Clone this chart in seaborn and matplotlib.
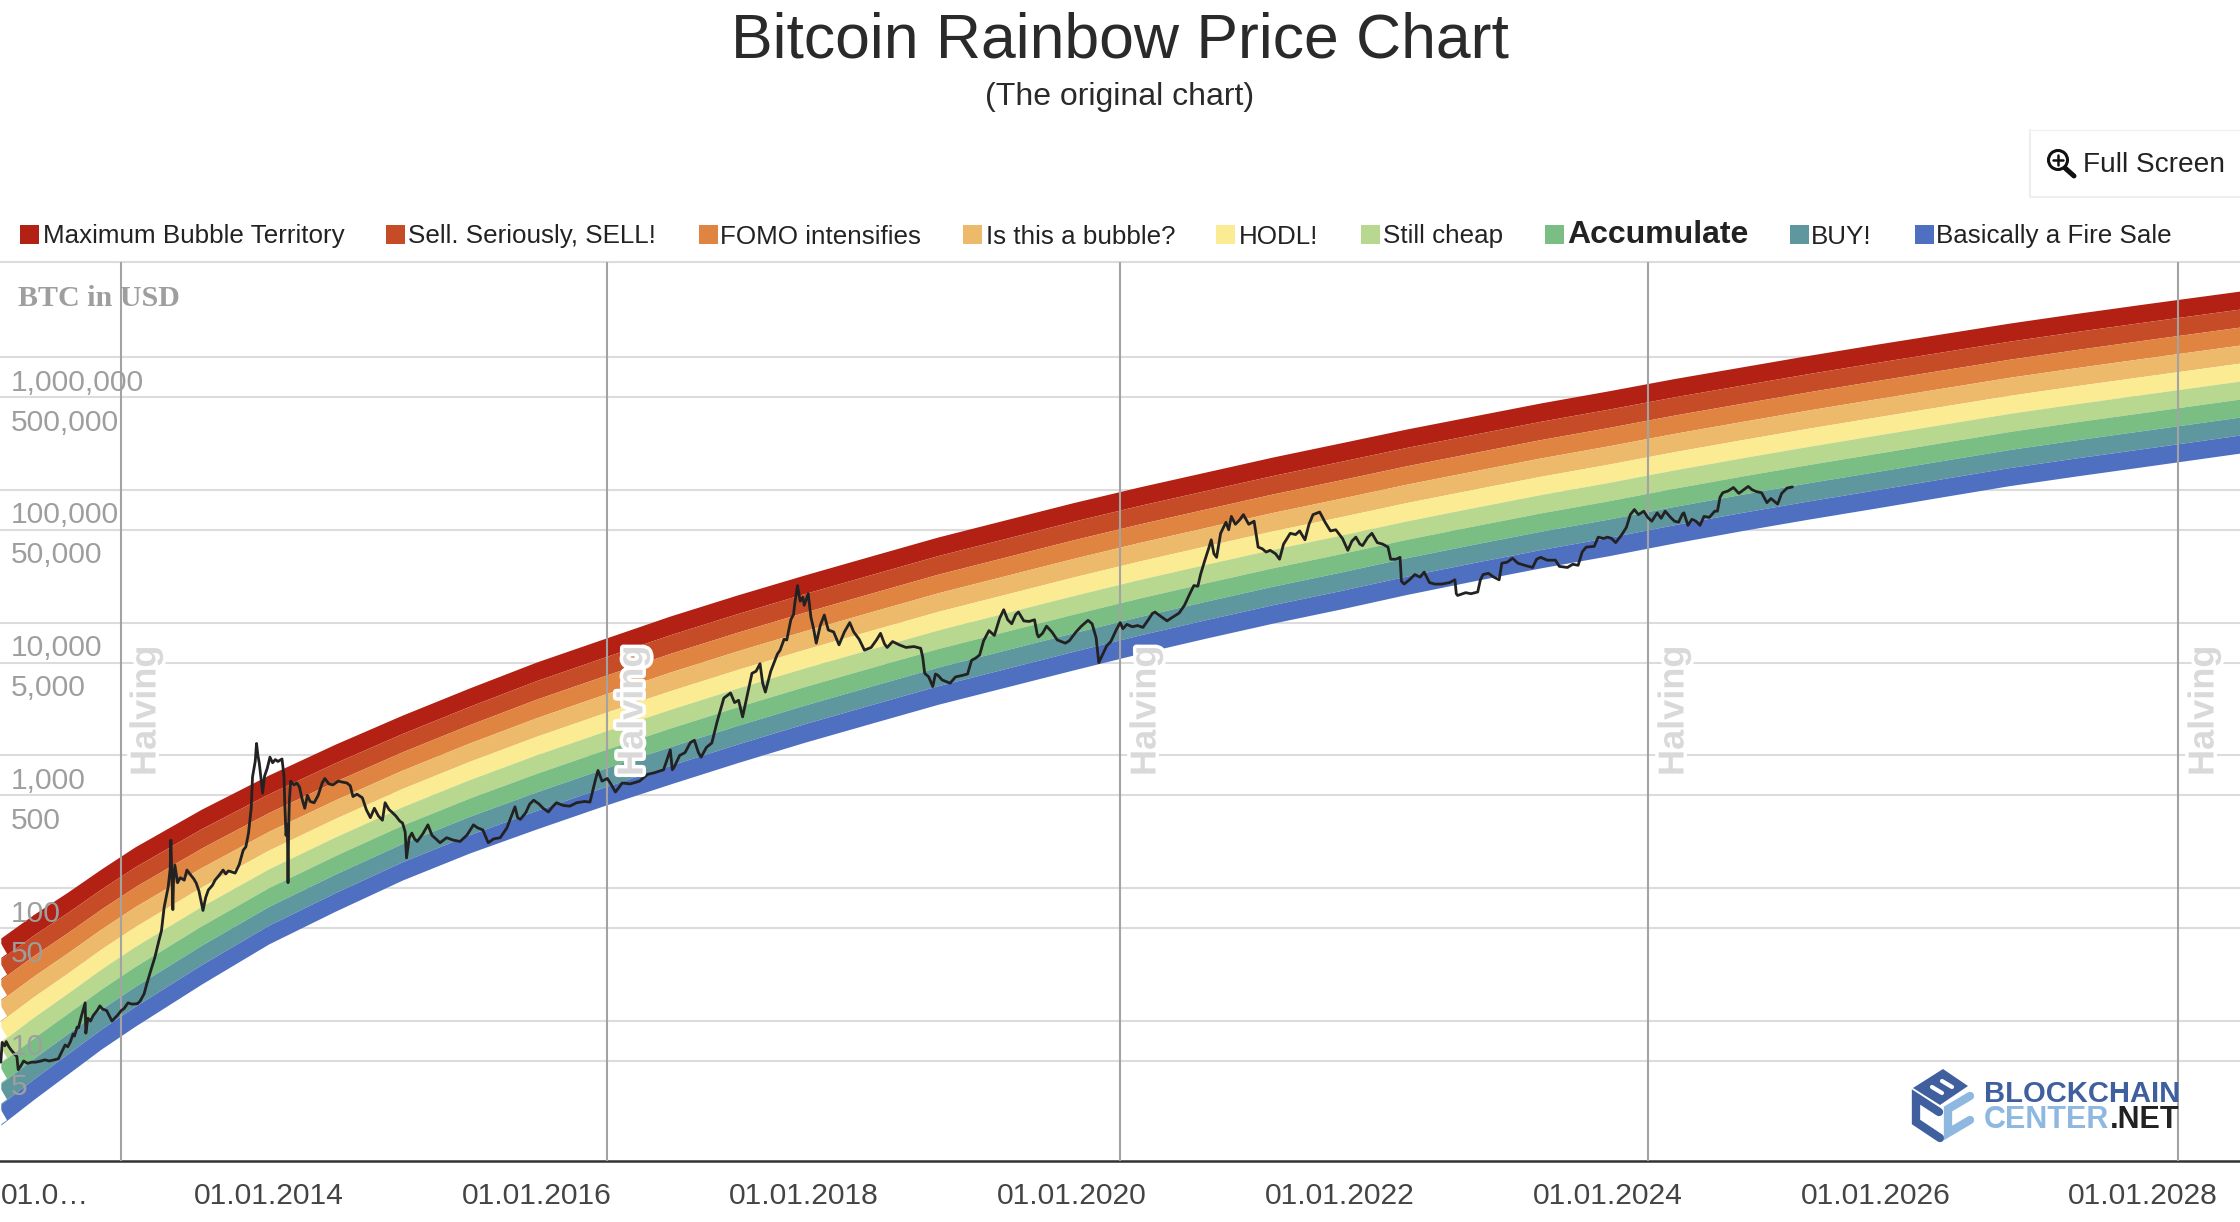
import numpy as np
import pandas as pd
import seaborn as sns
import matplotlib.pyplot as plt
from matplotlib.patches import Rectangle, Circle, Polygon
import matplotlib.patheffects as pe

# rainbow outer edges, log10(USD), read at these dates
edge_years = [2012.0, 2012.25, 2012.5, 2012.75, 2013.0, 2013.5, 2014.0, 2014.5, 2015.0, 2015.5, 2016.0, 2016.5,
              2017.0, 2017.5, 2018.0, 2018.5, 2019.0, 2019.5, 2020.0, 2020.5, 2021.0, 2021.5, 2022.0, 2022.5,
              2023.0, 2023.5, 2024.0, 2024.5, 2025.0, 2025.5, 2026.0, 2026.5, 2027.0, 2027.5, 2028.0, 2028.72]
top_edge = [1.625, 1.806, 1.971, 2.145, 2.310, 2.596, 2.852, 3.086, 3.304, 3.508, 3.703, 3.877,
            4.050, 4.208, 4.358, 4.502, 4.645, 4.773, 4.901, 5.021, 5.134, 5.247, 5.352, 5.458,
            5.556, 5.654, 5.744, 5.838, 5.925, 6.012, 6.095, 6.175, 6.255, 6.328, 6.398, 6.496]
bottom_edge = [0.217, 0.413, 0.601, 0.789, 0.959, 1.279, 1.580, 1.828, 2.062, 2.265, 2.446, 2.620,
               2.785, 2.945, 3.098, 3.242, 3.385, 3.513, 3.641, 3.766, 3.883, 3.996, 4.101, 4.212,
               4.314, 4.412, 4.502, 4.600, 4.692, 4.779, 4.862, 4.947, 5.031, 5.104, 5.174, 5.276]

band_names = ['Maximum Bubble Territory', 'Sell. Seriously, SELL!', 'FOMO intensifies', 'Is this a bubble?',
              'HODL!', 'Still cheap', 'Accumulate', 'BUY!', 'Basically a Fire Sale']
band_colors = ['#B22113', '#C64C27', '#E08441', '#EDB96B', '#FBEB93', '#B8D78F', '#7BBE84', '#5F979F', '#4F70C0']

# btc price, one pair of lists per calendar year (fraction of year, usd)
t2012 = [.00, .01, .03, .04, .06, .08, .10, .12, .13, .15, .17, .20, .23, .26, .30, .33, .36, .40, .43, .46, .48, .50,
         .52, .54, .55, .57, .58, .60, .63, .635, .65, .67, .69, .72, .74, .76, .79, .83, .87, .90, .92, .95, .98]
p2012 = [4.9, 6.9, 6.5, 7.0, 6.4, 6.0, 5.7, 5.4, 4.3, 4.6, 5.0, 4.8, 4.9, 4.9, 5.0, 5.1, 5.0, 5.1, 5.2, 6.0, 6.6, 6.4,
         7.0, 8.0, 7.7, 9.0, 8.9, 10.7, 13.7, 8.1, 10.5, 10.0, 11.0, 12.0, 13.0, 12.3, 12.0, 10.0, 11.0, 12.0, 12.4, 13.7, 13.4]
t2013 = [.02, .04, .07, .09, .12, .15, .18, .20, .22, .25, .265, .27, .285, .29, .30, .32, .34, .37, .39, .42, .44, .46, .48, .51,
         .53, .55, .58, .60, .63, .66, .68, .70, .73, .75, .78, .81, .83, .85, .87, .88, .90, .91, .92, .93, .945, .955, .97, .99]
p2013 = [13.5, 14.1, 16, 19, 24, 30, 40, 48, 72, 102, 140, 230, 69, 115, 149, 110, 120, 115, 137, 125, 118, 109, 95, 68,
         85, 97, 105, 115, 125, 137, 128, 135, 132, 130, 150, 193, 205, 260, 400, 690, 900, 1230, 1000, 880, 650, 520, 700, 800]
t2014 = [.01, .03, .05, .07, .10, .115, .12, .13, .14, .145, .15, .155, .165, .17, .19, .21, .23, .25, .27, .29, .31, .34,
         .37, .40, .42, .45, .48, .52, .55, .585, .61, .63, .66, .70, .73, .76, .79, .82, .85, .87, .90, .92, .95, .98]
p2014 = [970, 880, 930, 900, 940, 700, 460, 250, 300, 110, 300, 460, 640, 630, 600, 620, 580, 470, 400, 500, 450, 440,
         500, 620, 670, 610, 600, 640, 630, 620, 590, 490, 510, 480, 390, 340, 400, 350, 325, 440, 390, 375, 350, 320]
t2015 = [.00, .02, .03, .05, .07, .09, .11, .15, .19, .22, .25, .28, .33, .38, .43, .48, .53, .56, .60, .64, .68, .73, .78, .84, .86, .88, .92, .95, .98]
p2015 = [310, 265, 169, 240, 260, 235, 225, 255, 300, 250, 235, 220, 240, 230, 225, 250, 300, 285, 275, 220, 235, 240, 285, 410, 340, 330, 370, 430, 460]
t2016 = [.02, .05, .09, .12, .15, .20, .25, .30, .36, .40, .44, .46, .49, .53, .56, .59, .62, .64, .70, .77, .83, .88, .95, .98]
p2016 = [430, 400, 375, 410, 440, 420, 415, 440, 450, 445, 650, 770, 640, 670, 600, 530, 580, 620, 610, 640, 720, 740, 780, 960]
t2017 = [.00, .015, .03, .07, .11, .15, .18, .21, .23, .27, .31, .35, .38, .40, .45, .48, .51, .54, .57, .61, .64, .67, .69, .71, .75, .80, .82, .85, .87, .90, .92, .93, .95, .97, .99]
p2017 = [1100, 780, 820, 1000, 1050, 1250, 1300, 1050, 970, 1150, 1240, 1800, 2300, 2700, 2950, 2500, 2600, 1950, 2700, 4150, 4300, 4900, 3500, 3000, 4300, 5800, 6200, 7500, 7400, 10500, 11500, 14000, 19000, 14500, 15500]
t2018 = [.00, .03, .05, .07, .09, .12, .15, .18, .22, .26, .30, .34, .37, .41, .45, .50, .54, .57, .60, .62, .66, .71, .76, .82, .87, .885, .90, .93, .96, .98]
p2018 = [13500, 16500, 11000, 9000, 7000, 9500, 11400, 8800, 8500, 6800, 8500, 10000, 8500, 7500, 6200, 6500, 7400, 8300, 6900, 6500, 7200, 6800, 6500, 6600, 6400, 5500, 4150, 3900, 3300, 4100]
t2019 = [.00, .03, .06, .09, .13, .18, .22, .25, .28, .31, .34, .38, .42, .46, .49, .52, .55, .58, .60, .64, .68, .72, .74, .75, .78, .81, .85, .89, .95, .98]
p2019 = [4000, 3700, 3600, 3500, 3900, 4000, 4100, 5200, 5400, 5700, 7300, 8700, 8000, 10800, 12500, 10500, 9800, 11500, 12000, 10300, 10200, 10500, 8200, 7800, 8300, 9400, 8500, 7400, 7000, 7300]
t2020 = [.03, .07, .12, .15, .18, .20, .23, .26, .29, .33, .36, .38, .41, .45, .49, .53, .57, .60, .62, .66, .71, .74, .80, .84, .88, .91, .94, .96, .99]
p2020 = [8500, 9400, 10400, 9800, 7700, 5000, 5800, 6700, 7200, 8800, 10000, 9000, 9700, 9300, 9500, 9200, 10500, 11700, 12000, 11200, 10300, 10800, 11800, 13500, 16500, 19000, 18800, 23000, 29000]
t2021 = [.02, .04, .06, .08, .11, .15, .17, .19, .22, .25, .28, .32, .36, .39, .42, .45, .48, .52, .55, .58, .63, .67, .70, .74, .77, .80, .85, .89, .93, .97]
p2021 = [36000, 42000, 33000, 31000, 47000, 57000, 50000, 63000, 55000, 59000, 65000, 55000, 58000, 37000, 36000, 34000, 35000, 33000, 30000, 39000, 47000, 46000, 49000, 42000, 55000, 65000, 68000, 57000, 49000, 50000]
t2022 = [.02, .06, .09, .12, .15, .17, .21, .24, .28, .32, .36, .38, .42, .45, .46, .48, .52, .56, .60, .63, .67, .71, .76, .82, .86, .87, .88, .94, .98]
p2022 = [43000, 35000, 41000, 44000, 39000, 38000, 44000, 47000, 40000, 39000, 37000, 30000, 30000, 31000, 20500, 19500, 21000, 23000, 22000, 24000, 20000, 19500, 19500, 20000, 21000, 16500, 16000, 16800, 16500]
t2023 = [.03, .05, .07, .11, .15, .19, .21, .25, .29, .33, .38, .44, .47, .50, .55, .61, .64, .70, .74, .78, .81, .84, .90, .93, .97]
p2023 = [17000, 21000, 23000, 23500, 22000, 21000, 28000, 28500, 30500, 28000, 27000, 26000, 30000, 31000, 29500, 29500, 26500, 26000, 27500, 27000, 34000, 37000, 37500, 44000, 43000]
t2024 = [.00, .03, .06, .10, .14, .17, .20, .23, .27, .30, .33, .37, .40, .43, .47, .50, .53, .56, .57, .60, .63, .66, .69, .72, .76, .80, .82, .84, .86, .90, .94, .98]
p2024 = [44000, 43000, 40000, 45000, 52000, 65000, 71000, 65000, 69000, 62000, 58000, 67000, 61000, 69000, 62000, 58000, 57000, 66000, 67000, 54000, 60000, 58000, 54000, 63000, 62000, 69000, 69000, 88000, 95000, 98000, 104000, 94000]
t2025 = [.05, .08, .11, .15, .19, .22, .27, .30, .34, .38]
p2025 = [106000, 100000, 97000, 95000, 80000, 86000, 78000, 94000, 103000, 105000]

btc_years = [2012, 2013, 2014, 2015, 2016, 2017, 2018, 2019, 2020, 2021, 2022, 2023, 2024, 2025]
btc_t = [t2012, t2013, t2014, t2015, t2016, t2017, t2018, t2019, t2020, t2021, t2022, t2023, t2024, t2025]
btc_p = [p2012, p2013, p2014, p2015, p2016, p2017, p2018, p2019, p2020, p2021, p2022, p2023, p2024, p2025]

halvings = [2012.90, 2016.53, 2020.36, 2024.30, 2028.26]
grid_vals = [1000000, 500000, 100000, 50000, 10000, 5000, 1000, 500, 100, 50, 10, 5]
xtick_years = [2012, 2014, 2016, 2018, 2020, 2022, 2024, 2026, 2028]
xtick_labels = ['01.0…', '01.01.2014', '01.01.2016', '01.01.2018', '01.01.2020',
                '01.01.2022', '01.01.2024', '01.01.2026', '01.01.2028']

sns.set_theme(style='white')
plt.rcParams['font.family'] = ['Liberation Sans', 'DejaVu Sans']

df = pd.DataFrame({'year': [y + t for y, ts in zip(btc_years, btc_t) for t in ts],
                   'usd': [p for ps in btc_p for p in ps]})

W, H = 2240, 1222
fig = plt.figure(figsize=(22.4, 12.22), dpi=100)
ax = fig.add_axes([0, 1 - 1161 / H, 1, (1161 - 262) / H])

# nine bands of equal height between the two outer edges
top = np.array(top_edge)
bottom = np.array(bottom_edge)
for i, c in enumerate(band_colors):
    hi = top + (bottom - top) * i / 9
    lo = top + (bottom - top) * (i + 1) / 9
    ax.fill_between(edge_years, 10 ** hi, 10 ** lo, color=c, lw=0, zorder=2)

# the bands start with a slanted cut on the left edge
for k in range(1, 10):
    yk = 938 + 20.8 * k
    cut = [(0, 1 - (yk - 17) / H), (7 / W, 1 - (yk - 5) / H), (0, 1 - yk / H)]
    ax.add_patch(Polygon(cut, transform=fig.transFigure, fc='white', ec='none', zorder=2.5))

for h in halvings:
    ax.axvline(h, color='#a3a3a3', lw=1.5, zorder=3)

sns.lineplot(data=df, x='year', y='usd', ax=ax, color='#222222', lw=2.0, estimator=None, sort=False, zorder=5)

ax.set_yscale('log')
ax.set_xlim(2011.994, 2028.723)
ax.set_ylim(0.883, 5.19e6)
ax.set_yticks(grid_vals)
ax.set_yticklabels([])
ax.minorticks_off()
ax.grid(axis='y', color='#dcdcdc', lw=1.5)
ax.grid(axis='x', visible=False)
ax.set_axisbelow(True)
ax.set_xlabel('')
ax.set_ylabel('')
ax.set_xticks(xtick_years)
ax.set_xticklabels(xtick_labels, fontsize=21.6, color='#444444')
ax.get_xticklabels()[0].set_ha('left')
ax.tick_params(axis='both', length=0)
ax.tick_params(axis='x', pad=14.8)
for s in ['left', 'right']:
    ax.spines[s].set_visible(False)
ax.spines['top'].set_color('#dcdcdc')
ax.spines['top'].set_linewidth(1.5)
ax.spines['bottom'].set_color('#333333')
ax.spines['bottom'].set_linewidth(1.8)

for v in grid_vals:
    ax.annotate(f'{v:,}', (0, v), xycoords=ax.get_yaxis_transform(), xytext=(7.5, -18.5), textcoords='offset points',
                ha='left', va='center', fontsize=21.6, color='#9e9e9e', zorder=8)

# everything around the plot in pixel coordinates
ov = fig.add_axes([0, 0, 1, 1], zorder=10)
ov.set_xlim(0, W)
ov.set_ylim(H, 0)
ov.axis('off')
ov.patch.set_alpha(0)

ov.text(1120, 41, 'Bitcoin Rainbow Price Chart', ha='center', va='center', fontsize=45, color='#2a2a2a')
ov.text(1120, 97, '(The original chart)', ha='center', va='center', fontsize=23, color='#2a2a2a')

ov.text(18, 298.5, 'BTC in USD', family='Liberation Serif', weight='bold', fontsize=21.6, color='#9e9e9e', va='center')

# full screen button
ov.plot([2030, 2030, 2240], [130, 197, 197], color='#eeeeee', lw=1.5)
ov.plot([2030, 2240], [130, 130], color='#f2f2f2', lw=1)
ov.add_patch(Circle((2058, 160), 9.5, fc='none', ec='#111111', lw=2.2))
ov.plot([2065, 2074], [168, 176], color='#111111', lw=3.6, solid_capstyle='round')
ov.plot([2053, 2063], [160, 160], color='#111111', lw=1.8)
ov.plot([2058, 2058], [155, 165], color='#111111', lw=1.8)
ov.text(2083, 165.5, 'Full Screen', va='center', fontsize=20.2, color='#222222')

# legend row
sq_x = [20, 386, 699, 963, 1216, 1361, 1545, 1790, 1915]
tx_x = [43, 408, 720, 986, 1239, 1383, 1567, 1811, 1936]
for sx, tx, name, c in zip(sq_x, tx_x, band_names, band_colors):
    ov.add_patch(Rectangle((sx, 225), 19, 19, fc=c, ec='none'))
    if name == 'Accumulate':
        ov.text(tx, 235, name, va='center', fontsize=23, weight='bold', color='#222222')
    else:
        ov.text(tx, 236.5, name, va='center', fontsize=18.7, color='#222222')

# halving labels
halo = [pe.withStroke(linewidth=5, foreground='white')]
for x in [146, 633, 1146, 1674, 2204]:
    ov.text(x, 776, 'Halving', rotation=90, ha='center', va='bottom', fontsize=26, weight='bold',
            color='#d9d9d9', path_effects=halo)

# logo
dark = '#3f5f9f'
light = '#8fb8e0'
ov.add_patch(Polygon([(1943, 1069), (1968, 1086), (1940, 1105), (1913, 1088)], fc=dark, ec='none'))
ov.plot([1932, 1942], [1087, 1093], color='white', lw=3)
ov.plot([1942, 1952], [1081, 1087], color='white', lw=3)
ov.plot([1939, 1916, 1916, 1940], [1112, 1097, 1122, 1138], color=dark, lw=6, solid_joinstyle='miter')
ov.plot([1970, 1948, 1948, 1970], [1096, 1109, 1133, 1120], color=light, lw=6, solid_joinstyle='miter')
ov.text(1984, 1094, 'BLOCKCHAIN', va='center', fontsize=21, weight='bold', color=dark)
ov.text(1984, 1120, 'CENTER', va='center', fontsize=22, weight='bold', color=light)
ov.text(2179, 1120, '.NET', va='center', ha='right', fontsize=22, weight='bold', color='#222222')

plt.savefig('out.png', dpi=100)
